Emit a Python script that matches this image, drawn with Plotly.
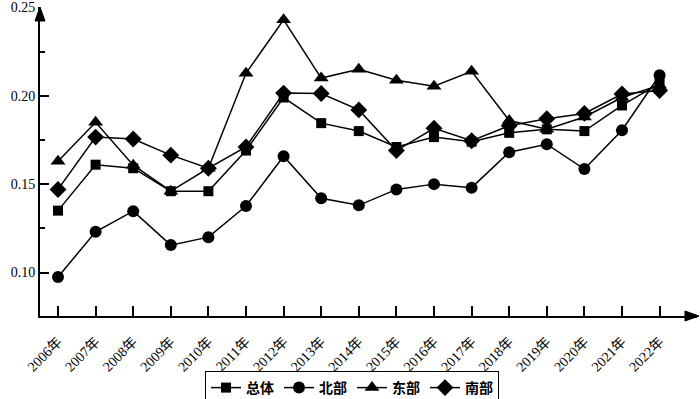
import plotly.graph_objects as go

years = ["2006年", "2007年", "2008年", "2009年", "2010年", "2011年", "2012年", "2013年", "2014年",
         "2015年", "2016年", "2017年", "2018年", "2019年", "2020年", "2021年", "2022年"]

overall = [0.135, 0.161, 0.159, 0.146, 0.146, 0.169, 0.199, 0.1845, 0.180, 0.171, 0.1766, 0.174,
           0.179, 0.181, 0.180, 0.1945, 0.207]
north = [0.0975, 0.123, 0.1347, 0.1155, 0.120, 0.1376, 0.1658, 0.142, 0.138, 0.147, 0.150, 0.148,
         0.168, 0.1726, 0.1585, 0.1805, 0.2116]
east = [0.163, 0.185, 0.1607, 0.146, 0.159, 0.2127, 0.243, 0.210, 0.215, 0.2088, 0.2054, 0.2138,
        0.186, 0.181, 0.188, 0.199, 0.206]
south = [0.147, 0.1766, 0.1755, 0.1664, 0.159, 0.171, 0.2015, 0.2013, 0.192, 0.169, 0.1816, 0.1745,
         0.183, 0.187, 0.190, 0.201, 0.203]

series = [("总体", overall, "square", 10),
          ("北部", north, "circle", 12),
          ("东部", east, "triangle-up", 13),
          ("南部", south, "diamond", 13)]

fig = go.Figure()
for name, vals, sym, sz in series:
    fig.add_trace(go.Scatter(
        x=years, y=vals, name=name, mode="lines+markers",
        line=dict(color="black", width=1.5),
        marker=dict(symbol=sym, size=sz, color="black"),
    ))

W, H = 700, 399
L, R, T, B = 40, 3, 7, 83
pw, ph = W - L - R, H - T - B

fig.update_layout(
    width=W, height=H,
    margin=dict(l=L, r=R, t=T, b=B, autoexpand=False),
    paper_bgcolor="white", plot_bgcolor="white",
    font=dict(family="Liberation Serif, Noto Sans CJK SC", size=14, color="black"),
    showlegend=True,
    legend=dict(orientation="h", x=(352 - L) / pw, xanchor="center",
                y=-(371 - (T + ph)) / ph, yanchor="top",
                bordercolor="black", borderwidth=1,
                font=dict(family="Noto Sans CJK SC", size=14, weight="bold"),
                itemwidth=30, tracegroupgap=0),
)

fig.update_xaxes(
    type="category", range=[-0.479, 16.995], automargin=False,
    showline=True, linecolor="black", linewidth=2,
    ticks="inside", ticklen=10, tickwidth=1.5, tickcolor="black",
    tickangle=-45, showgrid=False, zeroline=False, ticklabelstandoff=10,
    tickfont=dict(family="Liberation Serif, Noto Sans CJK SC", size=14),
)
fig.update_yaxes(
    range=[0.0754, 0.2502], automargin=False,
    showline=True, linecolor="black", linewidth=2,
    tickmode="linear", tick0=0.10, dtick=0.05, tickformat=".2f",
    ticks="inside", ticklen=9, tickwidth=1.5, tickcolor="black",
    minor=dict(dtick=0.025, tick0=0.075, ticks="inside", ticklen=5, tickwidth=1.5, tickcolor="black"),
    showgrid=False, zeroline=False,
    tickfont=dict(family="Liberation Serif", size=14),
)

# axis arrowheads
ax_w = 5 / pw
ay_h = 14 / ph
fig.add_shape(type="path", xref="paper", yref="paper",
              path=f"M {-ax_w} {1 - ay_h} L 0 1 L {ax_w} {1 - ay_h} Z",
              fillcolor="black", line=dict(color="black", width=1))
hx = 14 / pw
hy = 5 / ph
fig.add_shape(type="path", xref="paper", yref="paper",
              path=f"M {1.003 - hx} {hy} L 1.003 0 L {1.003 - hx} {-hy} Z",
              fillcolor="black", line=dict(color="black", width=1))

fig.write_html("out.html", config={"displayModeBar": False},
               post_script="document.body.style.margin='0';document.body.style.overflow='hidden';")
